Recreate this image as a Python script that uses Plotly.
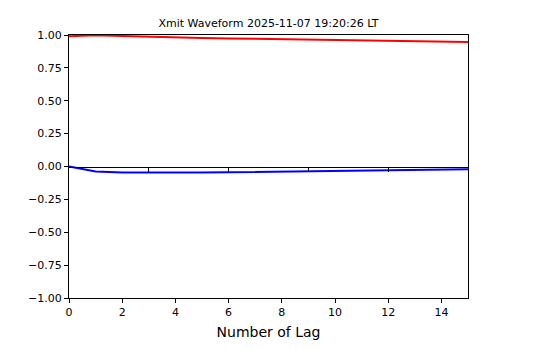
import plotly.graph_objects as go

lags = list(range(16))
real_part = [0.990, 0.998, 0.992, 0.986, 0.981, 0.977, 0.974, 0.971, 0.968, 0.965, 0.962, 0.959, 0.956, 0.953, 0.950, 0.947]
imag_part = [0.0, -0.038, -0.045, -0.047, -0.047, -0.046, -0.044, -0.042, -0.040, -0.037, -0.034, -0.031, -0.028, -0.025, -0.022, -0.020]
title_text = "Xmit Waveform 2025-11-07 19:20:26 LT"
xlabel = "Number of Lag"
ytick_vals = [-1.0, -0.75, -0.5, -0.25, 0.0, 0.25, 0.5, 0.75, 1.0]
ytick_text = ["\u22121.00", "\u22120.75", "\u22120.50", "\u22120.25", "0.00", "0.25", "0.50", "0.75", "1.00"]
xtick_vals = [0, 2, 4, 6, 8, 10, 12, 14]
zero_tick_vals = [3, 6, 9, 12, 15]

font = "DejaVu Sans"
fig = go.Figure()
# invisible trace carrying the zero-line axis
fig.add_trace(go.Scatter(x=[0, 15], y=[0, 0], xaxis="x2", mode="lines",
                         line=dict(color="rgba(0,0,0,0)"), showlegend=False, hoverinfo="skip"))
fig.add_trace(go.Scatter(x=lags, y=real_part, mode="lines", line=dict(color="red", width=2), showlegend=False))
fig.add_trace(go.Scatter(x=lags, y=imag_part, mode="lines", line=dict(color="blue", width=2), showlegend=False))

fig.update_layout(
    width=550, height=350,
    margin=dict(l=69, r=82, t=35, b=52),
    paper_bgcolor="white", plot_bgcolor="white",
    font=dict(family=font, color="black", size=11),
    title=dict(text=title_text, x=(69 + 468) / 2 / 550, xanchor="center", y=1 - 23 / 350, yanchor="middle",
               font=dict(size=11, family=font, color="black")),
    xaxis=dict(range=[0, 15], tickvals=xtick_vals, ticks="outside", ticklen=4, tickcolor="black",
               showline=True, linecolor="black", linewidth=1, mirror=True, showgrid=False, zeroline=False,
               title=dict(text=xlabel, font=dict(size=14, family=font), standoff=8)),
    xaxis2=dict(range=[0, 15], overlaying="x", anchor="free", position=0.5,
                side="bottom", tickvals=zero_tick_vals, ticks="outside", ticklen=4, tickcolor="black",
                showticklabels=False, showline=True, linecolor="black", linewidth=1, showgrid=False, zeroline=False),
    yaxis=dict(range=[-1, 1], tickvals=ytick_vals, ticktext=ytick_text, ticks="outside", ticklen=4, tickcolor="black",
               showline=True, linecolor="black", linewidth=1, mirror=True, showgrid=False, zeroline=False),
)
fig.write_html("out.html")
